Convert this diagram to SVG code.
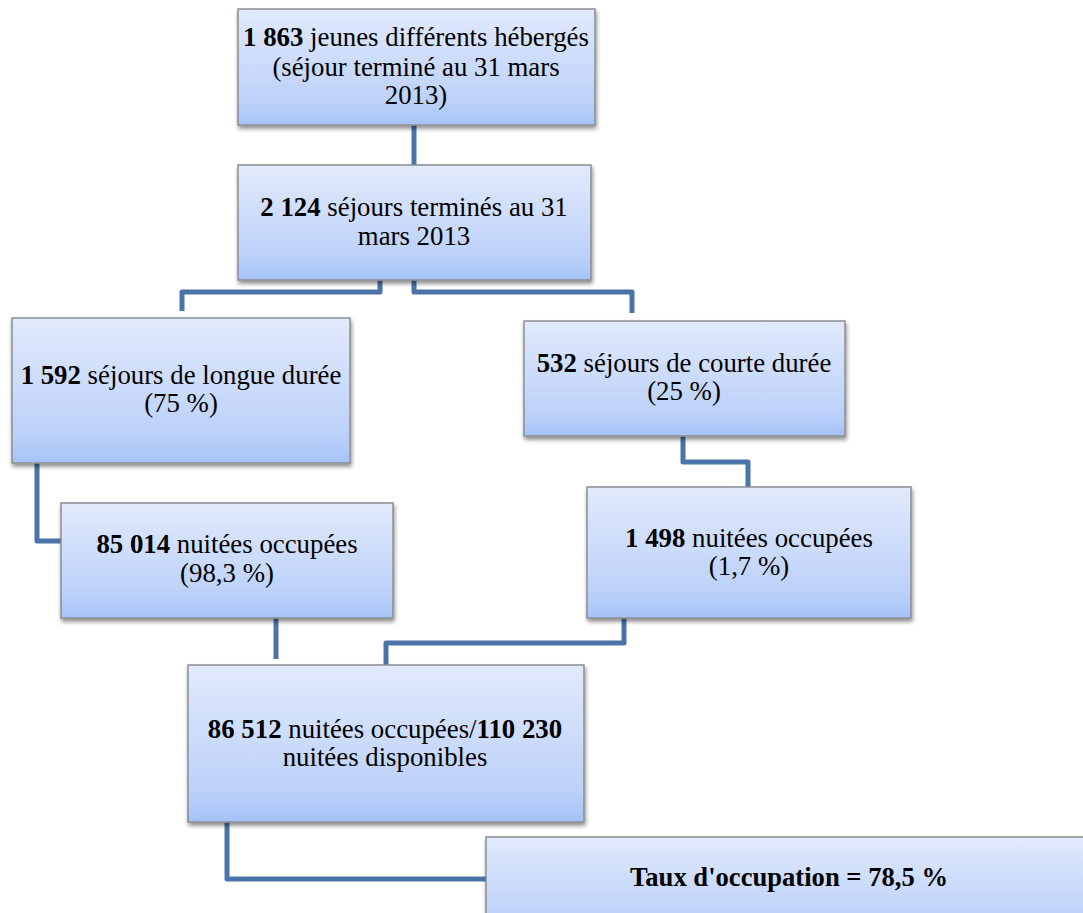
<svg xmlns="http://www.w3.org/2000/svg" width="1083" height="913" viewBox="0 0 1083 913">
<defs>
<linearGradient id="g" x1="0" y1="0" x2="0" y2="1">
<stop offset="0" stop-color="#e2eafc"/>
<stop offset="0.8" stop-color="#bcd1f9"/>
<stop offset="1" stop-color="#a5c3f8"/>
</linearGradient>
<filter id="sh" x="-5%" y="-5%" width="115%" height="125%">
<feGaussianBlur in="SourceAlpha" stdDeviation="2"/>
<feOffset dx="1" dy="3" result="b"/>
<feComponentTransfer><feFuncA type="linear" slope="0.45"/></feComponentTransfer>
<feMerge><feMergeNode/><feMergeNode in="SourceGraphic"/></feMerge>
</filter>
</defs>
<style>
.box{fill:url(#g);stroke:#8a8d93;stroke-width:1.5;filter:url(#sh)}
.t{font-family:'Liberation Serif','Times New Roman',Tinos,'DejaVu Serif',serif;font-size:26.8px;fill:#000;text-anchor:middle}
.b{font-weight:bold}
.c{fill:none;stroke:#4a74a8;stroke-width:5;stroke-linejoin:round}
</style>
<rect width="1083" height="913" fill="#fff"/>
<g id="connectors">
<path class="c" d="M414 124 V165"/>
<path class="c" d="M380 280 V292 H182 V311"/>
<path class="c" d="M414 280 V292 H632 V313"/>
<path class="c" d="M37 463 V541 H62"/>
<path class="c" d="M683 436 V462 H748 V487"/>
<path class="c" d="M276 618 V659"/>
<path class="c" d="M624 618 V643 H386 V665"/>
<path class="c" d="M227 822 V879 H487"/>
</g>
<g id="n1">
<rect class="box" x="238" y="9" width="357" height="116"/>
<text class="t" x="416" y="46"><tspan class="b">1 863</tspan> jeunes différents hébergés</text>
<text class="t" x="416" y="76">(séjour terminé au 31 mars</text>
<text class="t" x="416" y="104">2013)</text>
</g>
<g id="n2">
<rect class="box" x="238" y="165" width="353" height="115"/>
<text class="t" x="414" y="216"><tspan class="b">2 124</tspan> séjours terminés au 31</text>
<text class="t" x="414" y="245">mars 2013</text>
</g>
<g id="n3">
<rect class="box" x="12" y="318" width="338" height="145"/>
<text class="t" x="181" y="384"><tspan class="b">1 592</tspan> séjours de longue durée</text>
<text class="t" x="181" y="412">(75 %)</text>
</g>
<g id="n4">
<rect class="box" x="524" y="321" width="321" height="115"/>
<text class="t" x="684" y="372"><tspan class="b">532</tspan> séjours de courte durée</text>
<text class="t" x="684" y="400">(25 %)</text>
</g>
<g id="n5">
<rect class="box" x="61" y="503" width="332" height="115"/>
<text class="t" x="227" y="553"><tspan class="b">85 014</tspan> nuitées occupées</text>
<text class="t" x="227" y="582">(98,3 %)</text>
</g>
<g id="n6">
<rect class="box" x="587" y="487" width="324" height="131"/>
<text class="t" x="749" y="547"><tspan class="b">1 498</tspan> nuitées occupées</text>
<text class="t" x="749" y="575">(1,7 %)</text>
</g>
<g id="n7">
<rect class="box" x="188" y="665" width="396" height="157"/>
<text class="t" x="385" y="738"><tspan class="b">86 512</tspan> nuitées occupées/<tspan class="b">110 230</tspan></text>
<text class="t" x="385" y="766">nuitées disponibles</text>
</g>
<g id="n8">
<rect class="box" x="486" y="837" width="610" height="100"/>
<text class="t b" x="789" y="886" font-size="29" textLength="318" lengthAdjust="spacingAndGlyphs">Taux d'occupation = 78,5 %</text>
</g>
</svg>
